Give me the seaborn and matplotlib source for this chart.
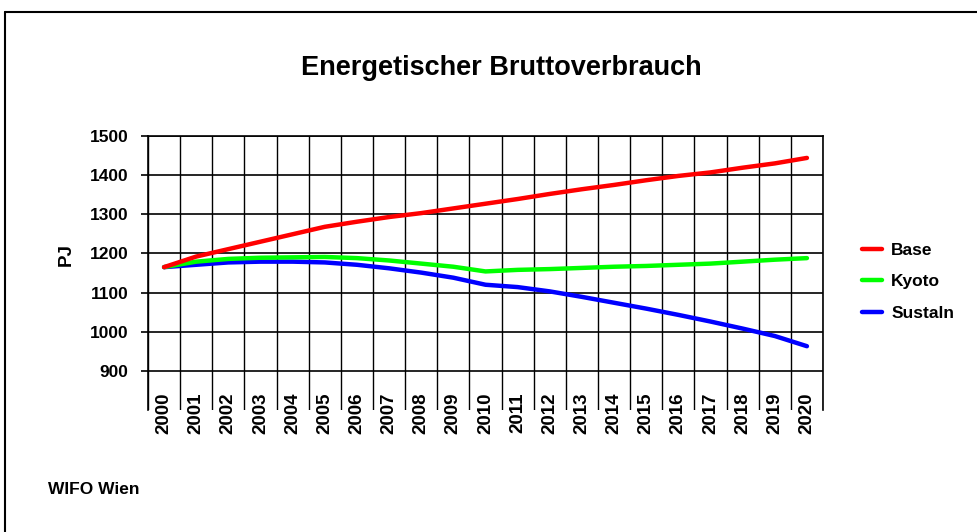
import matplotlib
matplotlib.use("Agg")
import matplotlib.pyplot as plt
from matplotlib.lines import Line2D
import seaborn as sns
import pandas as pd
import numpy as np

years = list(range(2000, 2021))
base = [1165, 1192, 1211, 1230, 1249, 1268, 1281, 1293, 1303, 1315, 1327,
        1339, 1352, 1364, 1375, 1387, 1398, 1407, 1419, 1430, 1444]
kyoto = [1165, 1179, 1186, 1189, 1190, 1191, 1188, 1182, 1174, 1166, 1154,
         1158, 1160, 1163, 1166, 1168, 1171, 1174, 1179, 1184, 1188]
sustain = [1165, 1171, 1177, 1179, 1179, 1177, 1171, 1162, 1151, 1138, 1120,
           1114, 1103, 1089, 1074, 1059, 1043, 1026, 1008, 989, 963]
series_names = ["Base", "Kyoto", "Sustaln"]
colors = ["#FF0000", "#00FF00", "#0000FF"]
yticks = [900, 1000, 1100, 1200, 1300, 1400, 1500]

df = pd.DataFrame({
    "Jahr": years * 3,
    "PJ": base + kyoto + sustain,
    "Szenario": [series_names[0]] * len(years) + [series_names[1]] * len(years)
                + [series_names[2]] * len(years),
})

sns.set_theme(style="white")
plt.rcParams["font.family"] = ["Liberation Sans", "DejaVu Sans"]
plt.rcParams["font.weight"] = "bold"
plt.rcParams["text.color"] = "black"
plt.rcParams["xtick.color"] = "black"
plt.rcParams["ytick.color"] = "black"
plt.rcParams["axes.labelcolor"] = "black"

W, H = 978, 532
fig = plt.figure(figsize=(W / 100, H / 100), dpi=100)
fig.patch.set_facecolor("white")

ax = fig.add_axes([148 / W, 1 - 410 / H, (823 - 148) / W, (410 - 136) / H])

sns.lineplot(data=df, x="Jahr", y="PJ", hue="Szenario",
             hue_order=series_names[::-1], palette=dict(zip(series_names, colors)),
             linewidth=3.2, ax=ax, legend=False)

ax.set_xlim(years[0] - 0.5, years[-1] + 0.5)
ax.set_ylim(800, 1500)
ax.set_yticks(yticks)
ax.set_yticklabels([str(v) for v in yticks], fontsize=12.5, fontweight="bold")
ax.set_xticks(years)
ax.set_xticklabels([str(y) for y in years], rotation=90, fontsize=13.5,
                   fontweight="bold")
ax.set_xticks(np.arange(years[0] - 0.5, years[-1] + 1.0, 1.0), minor=True)
ax.tick_params(axis="x", which="major", length=0, pad=-12.5)
ax.tick_params(axis="x", which="minor", length=0)
ax.tick_params(axis="y", which="major", length=5, width=1.2, color="black",
               direction="out", pad=9, left=True)
ax.grid(axis="y", which="major", color="black", linewidth=1.2)
ax.grid(axis="x", which="minor", color="black", linewidth=1.0)
ax.grid(axis="x", which="major", visible=False)
ax.set_axisbelow(True)
for s in ["left", "right", "top"]:
    ax.spines[s].set_visible(True)
    ax.spines[s].set_color("black")
    ax.spines[s].set_linewidth(1.2)
ax.spines["bottom"].set_visible(False)
ax.set_xlabel("")
ax.set_ylabel("")

# legend
handles = [Line2D([0], [0], color=c, lw=3.2) for c in colors]
fig.legend(handles, series_names, loc="upper left",
           bbox_to_anchor=(846 / W, 1 - 227 / H), frameon=False,
           prop={"weight": "bold", "size": 12.5},
           handlelength=1.15, handletextpad=0.55, labelspacing=0.95)

fig.text(501 / W, 1 - 68 / H, "Energetischer Bruttoverbrauch", ha="center",
         va="center", fontsize=19.5, fontweight="bold")
fig.text(66 / W, 1 - 255 / H, "PJ", rotation=90, ha="center", va="center",
         fontsize=13.5, fontweight="bold")
fig.text(48 / W, 1 - 490 / H, "WIFO Wien", ha="left", va="center",
         fontsize=12.5, fontweight="bold")

# outer frame (top and left edges visible)
fig.add_artist(Line2D([4.5 / W, 4.5 / W], [0, 1 - 12 / H], color="black",
                      lw=1.5, transform=fig.transFigure))
fig.add_artist(Line2D([4.5 / W, 1], [1 - 12 / H, 1 - 12 / H], color="black",
                      lw=1.5, transform=fig.transFigure))

fig.savefig("out.png", dpi=100)
